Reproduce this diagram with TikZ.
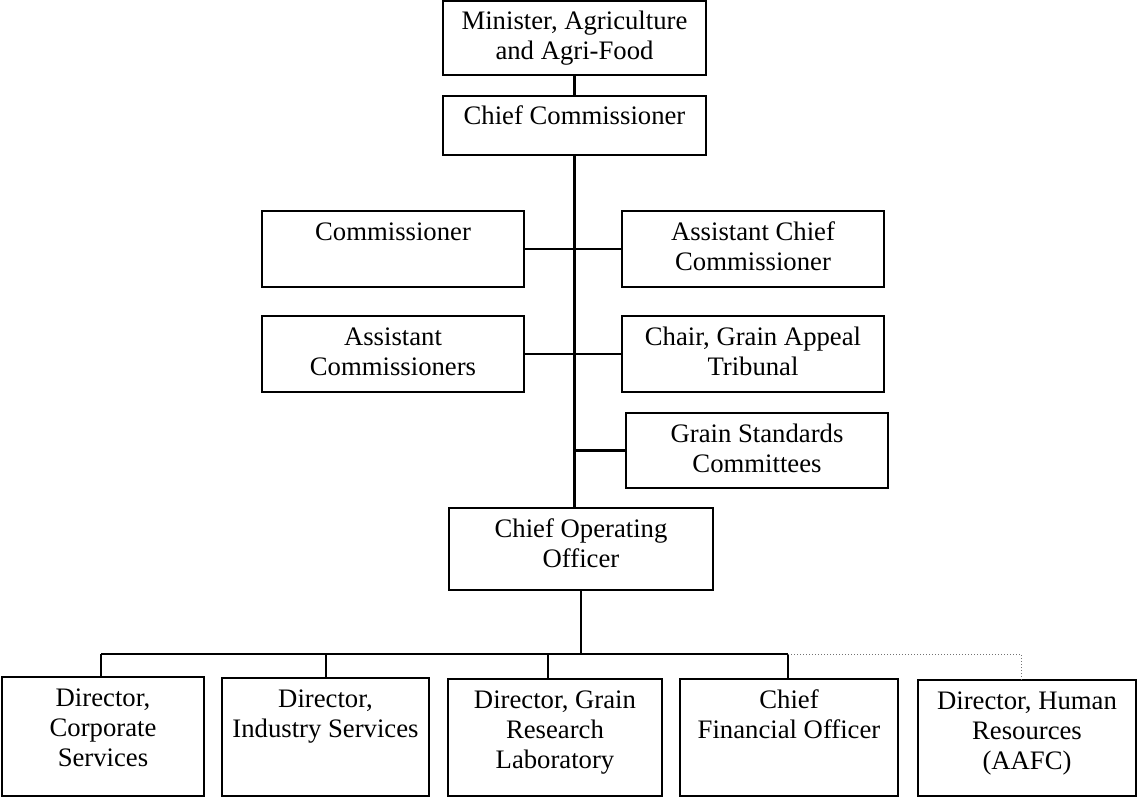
\documentclass[tikz,border=0pt]{standalone}
\usepackage{fontspec}
\setmainfont{Liberation Serif}
\newcommand{\bxt}[3]{\parbox[t][#2pt][t]{#1pt}{\centering\rule{0pt}{29pt}#3}}
\begin{document}
\begin{tikzpicture}[x=1pt,y=-1pt,
  box/.style={draw=black,line width=2pt,inner sep=0pt,outer sep=0pt,anchor=north west,
    font=\fontsize{26.7}{30}\selectfont},
  link/.style={draw=black,line width=2.2pt},
  dotlink/.style={draw=black!55,line width=1pt,dotted}]
\useasboundingbox (0,0) rectangle (1138,797);
\node[box] (min) at (443,1) {\bxt{263}{74}{Minister, Agriculture\\and Agri-Food}};
\node[box] (cc) at (443,96) {\bxt{263}{59}{Chief Commissioner}};
\node[box] (comm) at (262,211) {\bxt{262}{76}{Commissioner}};
\node[box] (ach) at (622,211) {\bxt{262}{76}{Assistant Chief\\Commissioner}};
\node[box] (acomm) at (262,316) {\bxt{262}{76}{Assistant\\Commissioners}};
\node[box] (chair) at (622,316) {\bxt{262}{76}{Chair, Grain Appeal\\Tribunal}};
\node[box] (gs) at (626,413) {\bxt{262}{75}{Grain Standards\\Committees}};
\node[box] (coo) at (449,508) {\bxt{264}{82}{Chief Operating\\Officer}};
\node[box] (d1) at (2,677) {\bxt{202}{119}{Director,\\Corporate\\Services}};
\node[box] (d2) at (222,678) {\bxt{207}{118}{Director,\\Industry Services}};
\node[box] (d3) at (448,679) {\bxt{214}{117}{Director, Grain\\Research\\Laboratory}};
\node[box] (d4) at (680,679) {\bxt{218}{117}{Chief\\Financial Officer}};
\node[box] (d5) at (918,680) {\bxt{218}{116}{Director, Human\\Resources\\(AAFC)}};
\coordinate (j1) at (101,654);
\coordinate (j2) at (326,654);
\coordinate (j3) at (548,654);
\coordinate (j4) at (788,654);
\coordinate (j5) at (1021,654);
\draw[link] (min.south) -- (cc.south |- min.south) -- (cc.north);
\draw[link] (cc.south) -- (cc.south |- coo.north);
\draw[link] (comm.east) -- (ach.west);
\draw[link] (acomm.east) -- (chair.west);
\draw[link] (gs.west) -- (gs.west -| cc.south);
\draw[link] (coo.south) -- (coo.south |- j1);
\draw[link] (j1) -- (j4);
\draw[link] (j1) -- (j1 |- d1.north);
\draw[link] (j2) -- (j2 |- d2.north);
\draw[link] (j3) -- (j3 |- d3.north);
\draw[link] (j4) -- (j4 |- d4.north);
\draw[dotlink] (j4) -- (j5) -- (j5 |- d5.north);
\end{tikzpicture}
\end{document}
